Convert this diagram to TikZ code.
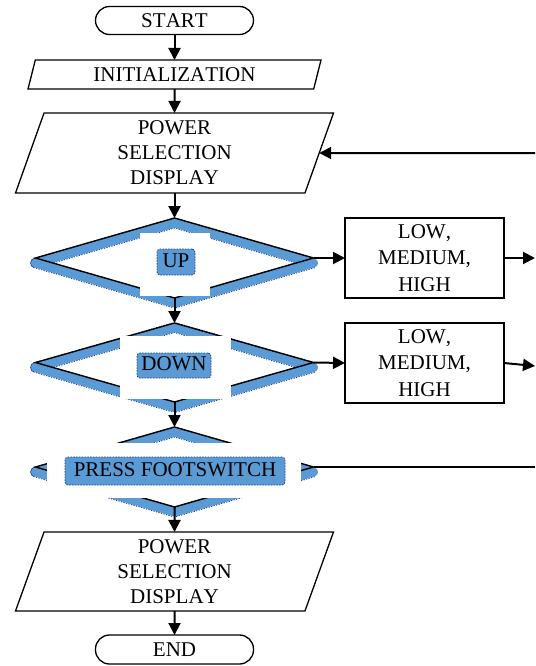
\documentclass[tikz,border=0pt]{standalone}
\usepackage{fontspec}
\setmainfont{Liberation Serif}[Kerning=Off]
\usetikzlibrary{shapes.geometric,arrows.meta}
\definecolor{bandblue}{RGB}{91,155,213}
\definecolor{banddot}{RGB}{35,55,130}
\begin{document}
\begin{tikzpicture}[x=1pt,y=-1pt,
  every node/.style={font=\fontsize{21}{25}\selectfont, inner sep=0pt, outer sep=0pt},
  terminal/.style={draw, line width=1.3pt, rectangle, rounded corners=14pt,
    minimum width=158pt, minimum height=28pt},
  io/.style={draw, line width=1.3pt, trapezium, trapezium stretches body,
    trapezium left angle=#1, trapezium right angle=180-#1, align=center},
  decision/.style={diamond, draw, line width=1.4pt,
    minimum width=278pt, minimum height=80pt},
  band/.style={diamond, draw=bandblue, line width=9pt, line join=round,
    minimum width=278pt, minimum height=80pt,
    preaction={draw=banddot, line width=10.6pt, line join=round,
      dash pattern=on 1.2pt off 1.4pt}},
  cover/.style={rectangle, fill=white},
  hilite/.style={rectangle, fill=bandblue, draw=banddot, line width=0.7pt,
    dash pattern=on 1.5pt off 1.3pt, rounded corners=3pt,
    text height=14pt, text depth=4pt},
  box/.style={draw, line width=1.3pt, rectangle, minimum width=159pt,
    minimum height=80pt, align=center, font=\fontsize{21}{26.5}\selectfont},
  flow/.style={line width=2pt, -{Triangle[length=12pt,width=12pt]}},
  plain/.style={line width=2pt}
]
\useasboundingbox (0,0) rectangle (535,666);

% main column
\node[terminal] (start) at (174.5,20.5) {START};
\node[io=62.6, minimum width=293pt, minimum height=29pt] (init) at (174.5,74.5) {INITIALIZATION};
\node[io=66, minimum width=318pt, minimum height=80pt] (psd1) at (174.5,153) {POWER\\SELECTION\\DISPLAY};

% decision UP
\node[band] (up-band) at (174.5,263) {};
\node[decision] (up) at (174.5,258) {};
\node[cover, minimum width=70pt, minimum height=63pt] (up-cover) at (175,264.5) {};
\node[hilite, minimum width=38pt, minimum height=26pt] (up-text) at (176,262) {UP};

% decision DOWN
\node[band] (down-band) at (174.5,367.5) {};
\node[decision, minimum height=79pt] (down) at (174.5,362.5) {};
\node[cover, minimum width=111pt, minimum height=63pt] (down-cover) at (175.5,367.5) {};
\node[hilite, minimum width=74pt, minimum height=25pt] (down-text) at (174,365.5) {DOWN};

% decision PRESS FOOTSWITCH
\node[band] (press-band) at (174.5,472) {};
\node[decision] (press) at (174.5,467) {};
\node[cover, minimum width=254pt, minimum height=55pt] (press-cover) at (174,470.5) {};
\node[hilite, minimum width=220pt, minimum height=28pt] (press-text) at (175,471) {PRESS FOOTSWITCH};

\node[io=66, minimum width=318pt, minimum height=79pt] (psd2) at (174.5,571.5) {POWER\\SELECTION\\DISPLAY};
\node[terminal, minimum height=29pt] (end) at (174.5,649.5) {END};

% level boxes
\node[box] (box1) at (424.5,258) {LOW,\\MEDIUM,\\HIGH};
\node[box] (box2) at (424.5,363) {LOW,\\MEDIUM,\\HIGH};

% loose ends at the right margin
\coordinate (ret) at (535,153);
\coordinate (out1) at (535,258);
\coordinate (out2) at (535,366);
\coordinate (outp) at (535,467);

% connectors
\draw[flow] (start) -- (init);
\draw[flow] (init) -- (psd1);
\draw[flow] (psd1) -- (up.north);
\draw[flow] (up.south) -- (down.north);
\draw[flow] (down.south) -- (press.north);
\draw[flow] (press.south) -- (psd2);
\draw[flow] (psd2) -- (end);
\draw[flow] (up.east) -- (box1.west);
\draw[flow] (down.east) -- (box2.west);
\draw[flow] (box1.east) -- (out1);
\draw[flow] (box2.east) -- (out2);
\draw[flow] (ret) -- (psd1.east);
\draw[plain] (press.east) -- (outp);
\end{tikzpicture}
\end{document}
